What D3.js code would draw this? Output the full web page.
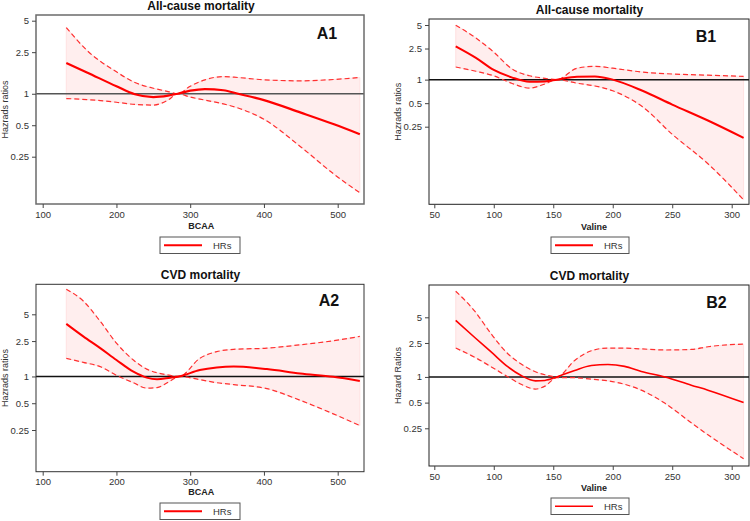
<!DOCTYPE html>
<html><head><meta charset="utf-8">
<script src="https://cdn.jsdelivr.net/npm/d3@7"></script>
<style>
html,body{margin:0;padding:0;background:#fff;}
svg{display:block;font-family:"Liberation Sans",Arial,sans-serif;}
</style></head>
<body><svg id="c" width="750" height="521"></svg>
<script>
// ---------- data ----------
const yTickValues = [0.25, 0.5, 1, 2.5, 5];
const yTickLabels = ["0.25", "0.5", "1", "2.5", "5"];
const bcaaTicks = [100, 200, 300, 400, 500];
const valineTicks = [50, 100, 150, 200, 250, 300];

// A1: BCAA, all-cause mortality
const a1X  = [132, 160, 200, 225, 250, 270, 283, 300, 320, 345, 365, 400, 450, 495, 530];
const a1HR = [1.97, 1.60, 1.18, 0.99, 0.93, 0.96, 1.0, 1.07, 1.11, 1.08, 1.0, 0.87, 0.66, 0.51, 0.41];
const a1Hi = [4.3, 2.6, 1.62, 1.28, 1.13, 1.05, 1.0, 1.18, 1.36, 1.46, 1.43, 1.36, 1.33, 1.37, 1.43];
const a1Lo = [0.90, 0.88, 0.83, 0.79, 0.78, 0.87, 1.0, 0.93, 0.87, 0.80, 0.73, 0.57, 0.31, 0.17, 0.113];

// B1: Valine, all-cause mortality
const b1X  = [68, 85, 100, 115, 130, 143, 153, 170, 185, 200, 225, 250, 280, 310];
const b1HR = [2.67, 1.90, 1.33, 1.07, 0.94, 0.95, 1.0, 1.09, 1.10, 1.0, 0.72, 0.48, 0.30, 0.18];
const b1Hi = [4.97, 3.4, 2.25, 1.38, 1.12, 1.04, 1.0, 1.40, 1.48, 1.40, 1.25, 1.18, 1.14, 1.10];
const b1Lo = [1.45, 1.28, 1.12, 0.90, 0.78, 0.88, 1.0, 0.90, 0.83, 0.72, 0.45, 0.20, 0.084, 0.029];

// A2: BCAA, CVD mortality
const a2X  = [132, 155, 178, 200, 223, 241, 255, 273, 285, 313, 336, 359, 404, 449, 494, 530];
const a2HR = [3.9, 2.82, 2.08, 1.53, 1.13, 0.97, 0.93, 0.97, 1.0, 1.18, 1.26, 1.29, 1.21, 1.08, 0.99, 0.89];
const a2Hi = [9.57, 7.05, 4.17, 2.37, 1.53, 1.21, 1.10, 1.03, 1.0, 1.6, 1.9, 2.02, 2.08, 2.27, 2.52, 2.82];
const a2Lo = [1.6, 1.44, 1.29, 1.03, 0.85, 0.74, 0.75, 0.89, 1.0, 0.92, 0.85, 0.81, 0.73, 0.54, 0.38, 0.28];

// B2: Valine, CVD mortality
const b2X  = [68, 84, 98, 112, 123, 135, 143, 153, 168, 182, 196, 210, 224, 244, 266, 280, 310];
const b2HR = [4.6, 2.9, 1.95, 1.31, 1.04, 0.90, 0.91, 1.0, 1.19, 1.36, 1.40, 1.33, 1.16, 1.0, 0.80, 0.70, 0.50];
const b2Hi = [10.1, 5.9, 3.17, 1.86, 1.42, 1.15, 1.06, 1.0, 1.56, 2.03, 2.18, 2.18, 2.13, 2.07, 2.10, 2.26, 2.43];
const b2Lo = [2.18, 1.7, 1.31, 1.0, 0.82, 0.72, 0.78, 0.98, 0.98, 0.94, 0.90, 0.82, 0.70, 0.49, 0.29, 0.21, 0.11];

const titles = ["All-cause mortality", "All-cause mortality", "CVD mortality", "CVD mortality"];
const panelLabels = ["A1", "B1", "A2", "B2"];
const xTitles = ["BCAA", "Valine", "BCAA", "Valine"];
const yTitles = ["Hazrads ratios", "Hazrads ratios", "Hazrads ratios", "Hazard Ratios"];
const legendLabel = "HRs";

// ---------- layout ----------
const panels = [
  {x:a1X, hr:a1HR, hi:a1Hi, lo:a1Lo, xt:bcaaTicks, xd:[100,500], xr:[42.7,337.7], yr:[156.7,20.7],
   box:[36,364,15,204], titleY:10, titleX:201, lab:[327,39], xtY:228.5, ytX:8, leg:[160,237,80,16.5],
   boxCol:"#6b6b6b", boxW:1.5, refCol:"#555", refW:1.6, hrW:2.2},
  {x:b1X, hr:b1HR, hi:b1Hi, lo:b1Lo, xt:valineTicks, xd:[50,300], xr:[434.3,731.7], yr:[126.7,25],
   box:[429,749,19,204.3], titleY:13.5, titleX:589.5, lab:[706,41.5], xtY:229.5, ytX:401, leg:[551,237,78,16.5],
   boxCol:"#222", boxW:1, refCol:"#111", refW:1.5, hrW:2},
  {x:a2X, hr:a2HR, hi:a2Hi, lo:a2Lo, xt:bcaaTicks, xd:[100,500], xr:[42.7,337.7], yr:[430,314.3],
   box:[36,364,284.3,471.7], titleY:278.5, titleX:200.5, lab:[329,306], xtY:495, ytX:8, leg:[160,503,80,16.5],
   boxCol:"#333", boxW:1, refCol:"#111", refW:1.5, hrW:2},
  {x:b2X, hr:b2HR, hi:b2Hi, lo:b2Lo, xt:valineTicks, xd:[50,300], xr:[434.3,731.7], yr:[428.3,317.3],
   box:[429,749,285,466], titleY:279.5, titleX:589.5, lab:[716.5,308], xtY:490.5, ytX:401, leg:[551,498,78,16.5],
   boxCol:"#222", boxW:1, refCol:"#111", refW:1.5, hrW:1.6}
];

const svg = d3.select("#c");
const defs = svg.append("defs");

panels.forEach((p, i) => {
  const [L, R, T, B] = p.box;
  const x = d3.scaleLinear().domain(p.xd).range(p.xr);
  const y = d3.scaleLog().domain([0.25, 5]).range(p.yr);
  const g = svg.append("g");

  defs.append("clipPath").attr("id", "clip" + i)
    .append("rect").attr("x", L).attr("y", T).attr("width", R - L).attr("height", B - T);
  const plot = g.append("g").attr("clip-path", `url(#clip${i})`);

  const pts = p.x.map((v, k) => ({x: v, hr: p.hr[k], hi: p.hi[k], lo: p.lo[k]}));
  const curve = d3.curveMonotoneX;

  plot.append("path").datum(pts)
    .attr("d", d3.area().x(d => x(d.x)).y0(d => y(d.lo)).y1(d => y(d.hi)).curve(curve))
    .attr("fill", "#ffeeee").attr("stroke", "#ffdcdc").attr("stroke-width", 0.8);

  plot.append("line").attr("x1", L).attr("x2", R).attr("y1", y(1)).attr("y2", y(1))
    .attr("stroke", p.refCol).attr("stroke-width", p.refW);

  ["hi", "lo"].forEach(k => {
    plot.append("path").datum(pts)
      .attr("d", d3.line().x(d => x(d.x)).y(d => y(d[k])).curve(curve))
      .attr("fill", "none").attr("stroke", "#ff3030").attr("stroke-width", 1.2)
      .attr("stroke-dasharray", "5,3");
  });

  plot.append("path").datum(pts)
    .attr("d", d3.line().x(d => x(d.x)).y(d => y(d.hr)).curve(curve))
    .attr("fill", "none").attr("stroke", "#ff0000").attr("stroke-width", p.hrW);

  // box
  g.append("rect").attr("x", L).attr("y", T).attr("width", R - L).attr("height", B - T)
    .attr("fill", "none").attr("stroke", p.boxCol).attr("stroke-width", p.boxW);

  // axes
  const yAxis = d3.axisLeft(y).tickValues(yTickValues)
    .tickFormat((d, k) => yTickLabels[k]).tickSize(4).tickPadding(3);
  const ya = g.append("g").attr("transform", `translate(${L},0)`).call(yAxis);
  const xAxis = d3.axisBottom(x).tickValues(p.xt).tickSize(4).tickPadding(3);
  const xa = g.append("g").attr("transform", `translate(0,${B})`).call(xAxis);
  [ya, xa].forEach(a => {
    a.select(".domain").remove();
    a.selectAll("line").attr("stroke", "#444");
    a.selectAll("text").attr("fill", "#333").style("font-size", "9.5px")
      .style("font-family", "'Liberation Sans', Arial, sans-serif");
  });

  // titles
  g.append("text").attr("x", p.titleX).attr("y", p.titleY).attr("text-anchor", "middle")
    .style("font-size", "12px").style("font-weight", "bold").attr("fill", "#111").text(titles[i]);
  g.append("text").attr("x", p.lab[0]).attr("y", p.lab[1]).attr("text-anchor", "middle")
    .style("font-size", "16px").style("font-weight", "bold").attr("fill", "#111").text(panelLabels[i]);
  g.append("text").attr("x", (p.xr[0] + p.xr[1]) / 2 + 11).attr("y", p.xtY).attr("text-anchor", "middle")
    .style("font-size", "9px").style("font-weight", "bold").attr("fill", "#222").text(xTitles[i]);
  g.append("text").attr("transform", `translate(${p.ytX},${(T + B) / 2}) rotate(-90)`)
    .attr("text-anchor", "middle").style("font-size", "9px").attr("fill", "#333").text(yTitles[i]);

  // legend
  const [lx, ly, lw, lh] = p.leg;
  const lg = g.append("g");
  lg.append("rect").attr("x", lx).attr("y", ly).attr("width", lw).attr("height", lh)
    .attr("fill", "#fff").attr("stroke", "#555").attr("stroke-width", 1);
  lg.append("line").attr("x1", lx + 4).attr("x2", lx + 42).attr("y1", ly + lh / 2).attr("y2", ly + lh / 2)
    .attr("stroke", "#ff0000").attr("stroke-width", i === 3 ? 1.5 : 2);
  lg.append("text").attr("x", lx + 53).attr("y", ly + lh / 2 + 3.5)
    .style("font-size", "9.5px").attr("fill", "#333").text(legendLabel);
});
</script></body></html>
